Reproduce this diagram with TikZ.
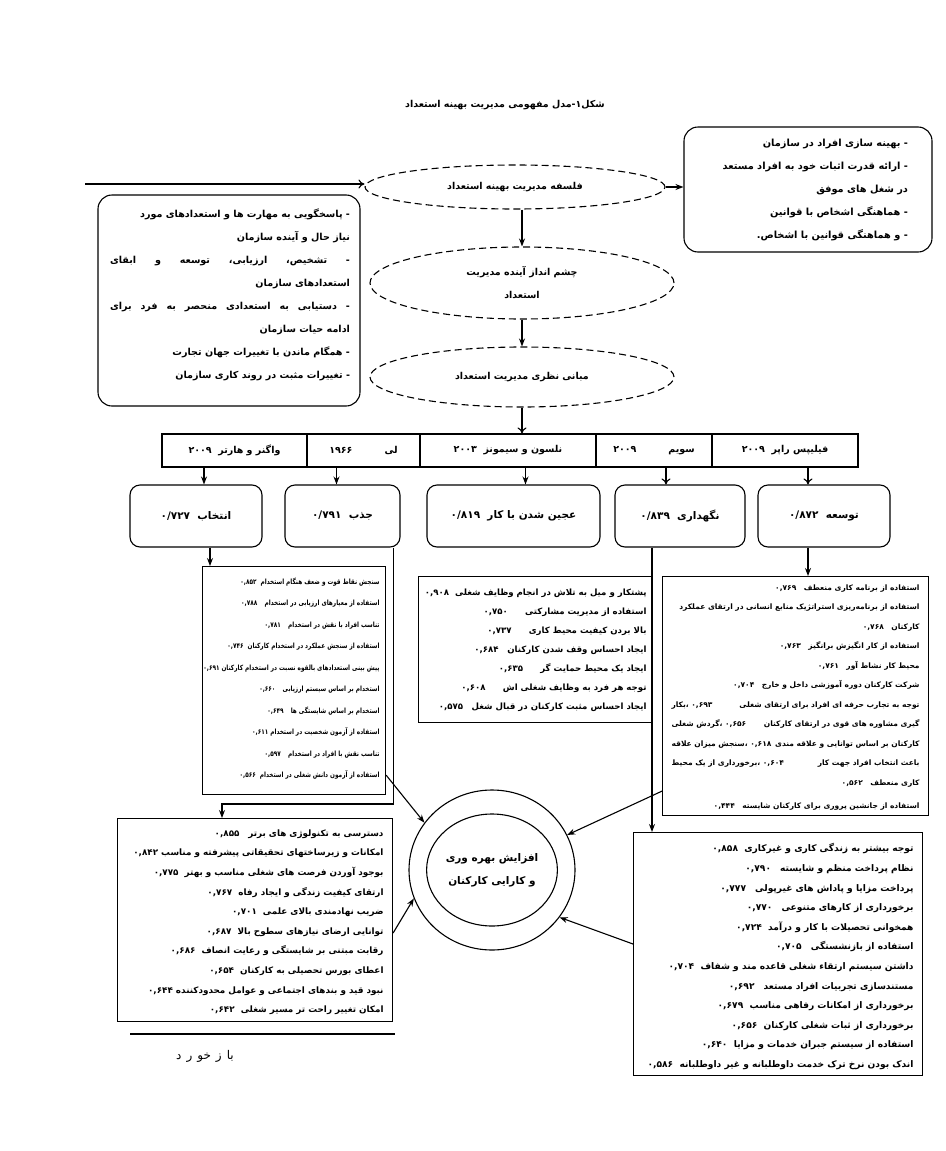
\documentclass[tikz,border=0pt]{standalone}
\usepackage{fontspec}
\usetikzlibrary{shapes.geometric,arrows.meta}
\newfontfamily\fa[Script=Arabic]{DejaVu Sans}
\newfontfamily\fan[Script=Arabic,FakeStretch=0.8]{DejaVu Sans}
\TeXXeTstate=1
\newcommand{\rl}[1]{\beginR #1\endR}
\newcommand{\jl}[2]{\hbox to #1{#2}}

\begin{document}
\begin{tikzpicture}[x=1pt,y=-1pt,
	every path/.style={line width=1.1pt},
	bigbox/.style={draw, rounded corners=14pt, inner sep=0pt},
	smallbox/.style={draw, rounded corners=10pt, inner sep=0pt, minimum height=62pt, font=\fa\bfseries\fontsize{10.5}{12}\selectfont},
	oval/.style={draw, ellipse, dash pattern=on 7pt off 4pt, inner sep=0pt, align=center, font=\fa\bfseries\fontsize{9.5}{23}\selectfont},
	cell/.style={draw, inner sep=0pt, minimum height=33pt, font=\fa\bfseries\fontsize{9.5}{11}\selectfont},
	listbox/.style={draw, inner sep=0pt, anchor=north west},
	txt/.style={inner sep=0pt, align=right, anchor=north east},
	arr/.style={-{Stealth[length=8pt,width=6pt]}},
	varr/.style={-{To[length=6pt,width=9pt]}}]
	\fill[white] (0,0) rectangle (945,1151);
	\useasboundingbox (0,0) rectangle (945,1151);

	\node[font=\fa\bfseries\fontsize{9.5}{11}\selectfont] (title) at (505,105) {\rl{شکل۱-مدل مفهومی مدیریت بهینه استعداد}};

	% top part
	\node[oval, minimum width=300pt, minimum height=44pt] (falsafe) at (515,187) {\rl{فلسفه مدیریت بهینه استعداد}};
	\node[oval, minimum width=304pt, minimum height=72pt] (cheshm) at (522,283) {\rl{چشم انداز آینده مدیریت}\\\rl{استعداد}};
	\node[oval, minimum width=304pt, minimum height=60pt] (mabani) at (522,377) {\rl{مبانی نظری مدیریت استعداد}};

	\node[bigbox, minimum width=248pt, minimum height=125pt] (hadaf) at (808,189.5) {};
	\node[txt, font=\fa\bfseries\fontsize{9.8}{23}\selectfont] (hadaftxt) at ([shift={(-24,12)}]hadaf.north east) {
		\rl{- بهینه سازی افراد در سازمان}\\
		\rl{- ارائه قدرت اثبات خود به افراد مستعد}\\
		\rl{در شغل های موفق}\\
		\rl{- هماهنگی اشخاص با قوانین}\\
		\rl{- و هماهنگی قوانین با اشخاص.}};

	\node[bigbox, minimum width=262pt, minimum height=211pt] (chalesh) at (229,300.5) {};
	\node[txt, font=\fa\bfseries\fontsize{9.6}{23}\selectfont] (chaleshtxt) at ([shift={(-10,14)}]chalesh.north east) {
		\rl{- پاسخگویی به مهارت ها و استعدادهای مورد}\\
		\rl{نیاز حال و آینده سازمان}\\
		\jl{240pt}{\rl{- \hfil تشخیص، \hfil ارزیابی، \hfil توسعه \hfil و \hfil ابقای}}\\
		\rl{استعدادهای سازمان}\\
		\jl{240pt}{\rl{- \hfil دستیابی \hfil به \hfil استعدادی \hfil منحصر \hfil به \hfil فرد \hfil برای}}\\
		\rl{ادامه حیات سازمان}\\
		\rl{- همگام ماندن با تغییرات جهان تجارت}\\
		\rl{- تغییرات مثبت در روند کاری سازمان}};

	\coordinate (start) at (85,184);
	\draw[varr] (start) -- (start -| falsafe.west);
	\draw[arr] (falsafe.east) -- (falsafe.east -| hadaf.west);
	\draw[arr] (cheshm.north |- falsafe.south) -- (cheshm.north);
	\draw[arr] (cheshm.south) -- (mabani.north);

	% table of authors
	\node[cell, minimum width=145pt] (wagner) at (234.5,450.5) {\rl{واگنر و هارتر\ \ ۲۰۰۹}};
	\node[cell, minimum width=113pt] (lee) at (363.5,450.5) {\rl{لی\hspace{32pt}۱۹۶۶}};
	\node[cell, minimum width=176pt] (nelson) at (508,450.5) {\rl{نلسون و سیمونز\ \ ۲۰۰۳}};
	\node[cell, minimum width=116pt] (swim) at (654,450.5) {\rl{سویم\hspace{32pt}۲۰۰۹}};
	\node[cell, minimum width=146pt] (philips) at (785,450.5) {\rl{فیلیپس راپر\ \ ۲۰۰۹}};
	\draw[varr] (mabani.south) -- (mabani.south |- nelson.north);

	% dimensions
	\node[smallbox, minimum width=132pt] (entekhab) at (196,516) {\rl{انتخاب\ \ ۰/۷۲۷}};
	\node[smallbox, minimum width=115pt] (jazb) at (342.5,516) {\rl{جذب\ \ ۰/۷۹۱}};
	\node[smallbox, minimum width=173pt] (ajin) at (513.5,516) {\rl{عجین شدن با کار\ \ ۰/۸۱۹}};
	\node[smallbox, minimum width=130pt] (negah) at (680,516) {\rl{نگهداری\ \ ۰/۸۳۹}};
	\node[smallbox, minimum width=132pt] (tose) at (824,516) {\rl{توسعه\ \ ۰/۸۷۲}};
	\draw[arr] ([xshift=8pt]entekhab.north |- wagner.south) -- ([xshift=8pt]entekhab.north);
	\draw[arr] ([xshift=-6pt]jazb.north |- lee.south) -- ([xshift=-6pt]jazb.north);
	\draw[arr] ([xshift=12pt]ajin.north |- nelson.south) -- ([xshift=12pt]ajin.north);
	\draw[varr] ([xshift=-14pt]negah.north |- swim.south) -- ([xshift=-14pt]negah.north);
	\draw[varr] ([xshift=-16pt]tose.north |- philips.south) -- ([xshift=-16pt]tose.north);

	% item lists
	\node[listbox, minimum width=183pt, minimum height=228pt] (lentekhab) at (202,566) {};
	\node[txt, font=\fan\bfseries\fontsize{7.2}{21.5}\selectfont] (lentekhabtxt) at ([shift={(-6,11)}]lentekhab.north east) {
		\rl{سنجش نقاط قوت و ضعف هنگام استخدام\ \ ۰,۸۵۲}\\
		\rl{استفاده از معیارهای ارزیابی در استخدام\quad ۰,۷۸۸}\\
		\rl{تناسب افراد با نقش در استخدام\quad ۰,۷۸۱}\\
		\rl{استفاده از سنجش عملکرد در استخدام کارکنان\ \ ۰,۷۴۶}\\
		\rl{پیش بینی استعدادهای بالقوه نسبت در استخدام کارکنان ۰,۶۹۱}\\
		\rl{استخدام بر اساس سیستم ارزیابی\quad ۰,۶۶۰}\\
		\rl{استخدام بر اساس شایستگی ها\quad ۰,۶۴۹}\\
		\rl{استفاده از آزمون شخصیت در استخدام ۰,۶۱۱}\\
		\rl{تناسب نقش با افراد در استخدام\quad ۰,۵۹۷}\\
		\rl{استفاده از آزمون دانش شغلی در استخدام\ \ ۰,۵۶۶}};

	\node[listbox, minimum width=234pt, minimum height=146pt] (lajin) at (418,576) {};
	\node[txt, font=\fa\bfseries\fontsize{8.6}{19}\selectfont] (lajintxt) at ([shift={(-6,12)}]lajin.north east) {
		\rl{پشتکار و میل به تلاش در انجام وظایف شغلی\ \ ۰,۹۰۸}\\
		\rl{استفاده از مدیریت مشارکتی\qquad ۰,۷۵۰}\\
		\rl{بالا بردن کیفیت محیط کاری\qquad ۰,۷۳۷}\\
		\rl{ایجاد احساس وقف شدن کارکنان\quad ۰,۶۸۴}\\
		\rl{ایجاد یک محیط حمایت گر\qquad ۰,۶۳۵}\\
		\rl{توجه هر فرد به وظایف شغلی اش\qquad ۰,۶۰۸}\\
		\rl{ایجاد احساس مثبت کارکنان در قبال شغل\quad ۰,۵۷۵}};

	\node[listbox, minimum width=266pt, minimum height=239pt] (ltose) at (662,576) {};
	\node[txt, font=\fa\bfseries\fontsize{7.5}{19.5}\selectfont] (ltosetxt) at ([shift={(-9,8)}]ltose.north east) {
		\rl{استفاده از برنامه کاری منعطف\quad ۰,۷۶۹}\\
		\rl{استفاده از برنامه‌ریزی استراتژیک منابع انسانی در ارتقای عملکرد}\\
		\rl{کارکنان\quad ۰,۷۶۸\hspace{120pt}}\\
		\rl{استفاده از کار انگیزش برانگیز\quad ۰,۷۶۳}\\
		\rl{محیط کار نشاط آور\quad ۰,۷۶۱}\\
		\rl{شرکت کارکنان دوره آموزشی داخل و خارج\quad ۰,۷۰۴}\\
		\jl{248pt}{\rl{توجه به تجارب حرفه ای افراد برای ارتقای شغلی \hfil ۰,۶۹۳ ،بکار}}\\
		\jl{248pt}{\rl{گیری مشاوره های قوی در ارتقای کارکنان \hfil ۰,۶۵۶ ،گردش شغلی}}\\
		\jl{248pt}{\rl{کارکنان بر اساس توانایی و علاقه مندی \hfil ۰,۶۱۸ ،سنجش میزان علاقه}}\\
		\jl{248pt}{\rl{باعث انتخاب افراد جهت کار \hfil ۰,۶۰۴ ،برخورداری از یک محیط}}\\
		\rl{کاری منعطف\quad ۰,۵۶۲\hspace{150pt}}\\[4pt]
		\rl{استفاده از جانشین پروری برای کارکنان شایسته\quad ۰,۴۴۴}};

	\node[listbox, minimum width=275pt, minimum height=203pt] (ljazb) at (117,818) {};
	\node[txt, font=\fa\bfseries\fontsize{8.8}{19.6}\selectfont] (ljazbtxt) at ([shift={(-9,11)}]ljazb.north east) {
		\rl{دسترسی به تکنولوژی های برتر\quad ۰,۸۵۵}\\
		\rl{امکانات و زیرساختهای تحقیقاتی پیشرفته و مناسب ۰,۸۴۲}\\
		\rl{بوجود آوردن فرصت های شغلی مناسب و بهتر\ \ ۰,۷۷۵}\\
		\rl{ارتقای کیفیت زندگی و ایجاد رفاه\ \ ۰,۷۶۷}\\
		\rl{ضریب نهادمندی بالای علمی\ \ ۰,۷۰۱}\\
		\rl{توانایی ارضای نیازهای سطوح بالا\ \ ۰,۶۸۷}\\
		\rl{رقابت مبتنی بر شایستگی و رعایت انصاف\ \ ۰,۶۸۶}\\
		\rl{اعطای بورس تحصیلی به کارکنان\ \ ۰,۶۵۴}\\
		\rl{نبود قید و بندهای اجتماعی و عوامل محدودکننده ۰,۶۴۴}\\
		\rl{امکان تغییر راحت تر مسیر شغلی\ \ ۰,۶۴۲}};

	\node[listbox, minimum width=289pt, minimum height=243pt] (lnegah) at (633,832) {};
	\node[txt, font=\fa\bfseries\fontsize{9.1}{19.6}\selectfont] (lnegahtxt) at ([shift={(-9,11)}]lnegah.north east) {
		\rl{توجه بیشتر به زندگی کاری و غیرکاری\ \ ۰,۸۵۸}\\
		\rl{نظام پرداخت منظم و شایسته\quad ۰,۷۹۰}\\
		\rl{پرداخت مزایا و پاداش های غیرپولی\quad ۰,۷۷۷}\\
		\rl{برخورداری از کارهای متنوعی\quad ۰,۷۷۰}\\
		\rl{همخوانی تحصیلات با کار و درآمد\ \ ۰,۷۲۴}\\
		\rl{استفاده از بازنشستگی\quad ۰,۷۰۵}\\
		\rl{داشتن سیستم ارتقاء شغلی قاعده مند و شفاف\ \ ۰,۷۰۴}\\
		\rl{مستندسازی تجربیات افراد مستعد\quad ۰,۶۹۲}\\
		\rl{برخورداری از امکانات رفاهی مناسب\ \ ۰,۶۷۹}\\
		\rl{برخورداری از ثبات شغلی کارکنان\ \ ۰,۶۵۶}\\
		\rl{استفاده از سیستم جبران خدمات و مزایا\ \ ۰,۶۴۰}\\
		\rl{اندک بودن نرخ ترک خدمت داوطلبانه و غیر داوطلبانه\ \ ۰,۵۸۶}};

	% links from dimensions to lists
	\draw[arr] ([xshift=14pt]entekhab.south) -- ([xshift=14pt]entekhab.south |- lentekhab.north);
	\draw[arr] ([xshift=-16pt]tose.south) -- ([xshift=-16pt]tose.south |- ltose.north);
	\coordinate (jazbturn) at (222,804);
	\draw[arr] ([xshift=-7pt]jazb.south east) |- (jazbturn) -- (jazbturn |- ljazb.north);
	\draw[arr] ([xshift=-28pt]negah.south) -- ([xshift=-28pt]negah.south |- lnegah.north);

	% outcome
	\node[draw, ellipse, minimum width=166pt, minimum height=160pt, inner sep=0pt] (ring) at (492,870) {};
	\node[draw, ellipse, minimum width=118pt, minimum height=112pt, inner sep=0pt, align=center, font=\fa\bfseries\fontsize{10.5}{23}\selectfont] (bahrevari) at (ring) {\rl{افزایش بهره وری}\\\rl{و کارایی کارکنان}};
	\draw[arr] ([yshift=20pt]lentekhab.south east) -- (ring.145);
	\draw[arr] ([yshift=25pt]ltose.south west) -- (ring.25);
	\draw[arr] ([yshift=-115pt]ljazb.north east) -- (ring.200);
	\draw[arr] ([yshift=-112pt]lnegah.north west) -- (ring.-35);

	% feedback
	\coordinate (fbleft) at (130,1034);
	\coordinate (fbright) at (395,1034);
	\draw (fbleft) -- (fbright);
	\node[font=\fa\fontsize{12}{14}\selectfont] (bazkhord) at (205,1056) {\rl{با\hspace{5pt}ز\hspace{5pt}خو\hspace{5pt}ر\hspace{5pt}د}};
\end{tikzpicture}
\end{document}
